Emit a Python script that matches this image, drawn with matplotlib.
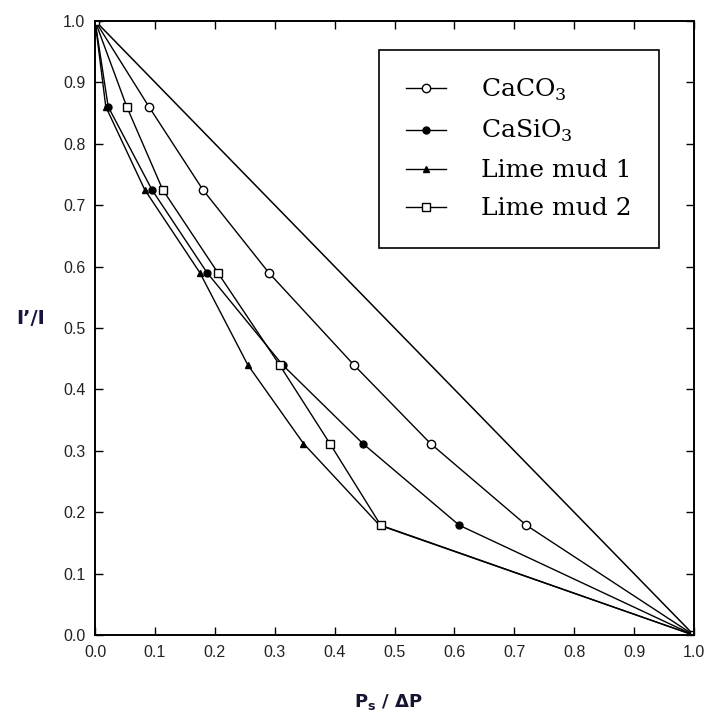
import matplotlib
matplotlib.use('Agg')
import matplotlib.pyplot as plt

# 데이터
y_lv = [1.0, 0.86, 0.725, 0.59, 0.44, 0.312, 0.179, 0.0]
x_caco3 = [0.0, 0.09, 0.18, 0.29, 0.432, 0.56, 0.72, 1.0]
x_casio3 = [0.0, 0.022, 0.095, 0.187, 0.313, 0.447, 0.608, 1.0]
x_lime1 = [0.0, 0.018, 0.083, 0.175, 0.255, 0.348, 0.475, 1.0]
x_lime2 = [0.0, 0.053, 0.113, 0.205, 0.308, 0.392, 0.477, 1.0]
diag_x = [0.0, 1.0]
diag_y = [1.0, 0.0]

fig = plt.figure(figsize=(7.09, 7.13), dpi=100)
ax = fig.add_axes([0.134, 0.109, 0.845, 0.862])

# 대각선 (기준선)
ax.plot(diag_x, diag_y, color='black', lw=1.1)

ax.plot(x_caco3, y_lv, 'o-', color='black', lw=1.0, ms=6, mfc='white', mec='black', mew=1.0, label='CaCO$_\\mathregular{3}$')
ax.plot(x_casio3, y_lv, 'o-', color='black', lw=1.0, ms=5, mfc='black', mec='black', label='CaSiO$_\\mathregular{3}$')
ax.plot(x_lime1, y_lv, '^-', color='black', lw=1.0, ms=4.5, mfc='black', mec='black', label='Lime mud 1')
ax.plot(x_lime2, y_lv, 's-', color='black', lw=1.0, ms=6, mfc='white', mec='black', mew=1.0, label='Lime mud 2')

ax.set_xlim(0, 1.0)
ax.set_ylim(0, 1.0)
ticks = [i / 10 for i in range(11)]
ax.set_xticks(ticks)
ax.set_yticks(ticks)
ax.set_xticklabels(['%.1f' % t for t in ticks], family='Liberation Sans', fontsize=11.5, color='#222222')
ax.set_yticklabels(['%.1f' % t for t in ticks], family='Liberation Sans', fontsize=11.5, color='#222222')
ax.tick_params(direction='in', top=True, right=True, length=6, width=1.0, pad=7)
for s in ax.spines.values():
    s.set_linewidth(1.4)

ax.set_xlabel('P$_\\mathregular{s}$ / ΔP', family='DejaVu Sans', fontweight='bold', fontsize=13, color='#151530')
ax.set_ylabel('I’/I', family='DejaVu Sans', fontweight='bold', fontsize=14, color='#151540', rotation=0)
ax.xaxis.set_label_coords(0.49, -0.092)
ax.yaxis.set_label_coords(-0.108, 0.5)

leg = ax.legend(loc='upper right', bbox_to_anchor=(0.942, 0.953), borderaxespad=0,
                prop={'family': 'DejaVu Serif', 'size': 18}, fancybox=False, framealpha=1,
                edgecolor='black', handlelength=1.6, labelspacing=0.6, borderpad=1.1,
                handletextpad=1.4)
leg.get_frame().set_linewidth(1.2)

fig.savefig('out.png', dpi=100)
